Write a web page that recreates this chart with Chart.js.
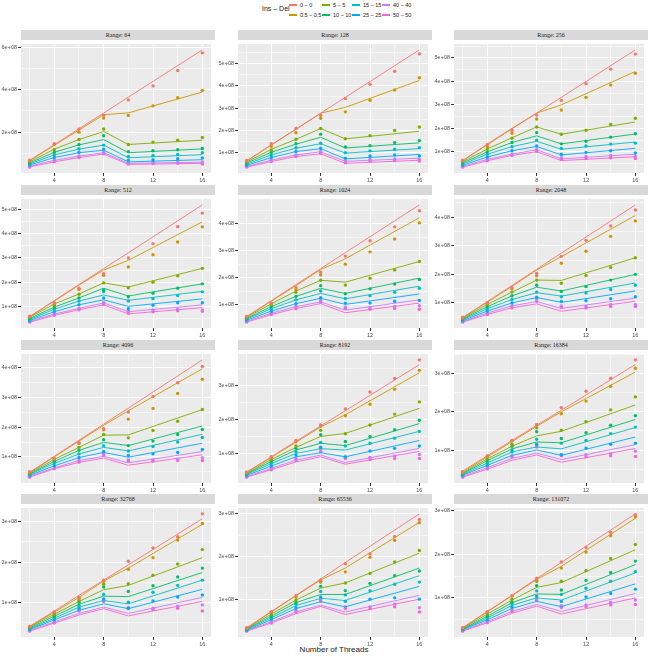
<!DOCTYPE html>
<html>
<head>
<meta charset="utf-8">
<script src="https://cdn.jsdelivr.net/npm/chart.js@4.4.0/dist/chart.umd.min.js"></script>
<style>
  body { margin: 0; background: #fff; font-family: 'Liberation Sans', Arial, sans-serif; }
  #page { position: relative; width: 650px; height: 657px; overflow: hidden; }
  canvas { position: absolute; }
  .strip { position: absolute; background: #d9d9d9; color: #1a1a1a; font: 6px 'Liberation Serif', serif; text-align: center; line-height: 10px; height: 10px; }
  .lg-title { position: absolute; left: 262px; top: 5px; font-size: 7px; color: #1a1a1a; }
  .lg-key { position: absolute; width: 8px; height: 2px; }
  .lg-lab { position: absolute; font-size: 5.5px; color: #1a1a1a; line-height: 6px; }
  #xtitle { position: absolute; left: 0; width: 668px; top: 645px; text-align: center; font-size: 8px; color: #1a1a1a; }
</style>
</head>
<body>
<div id="page">
  <div class="lg-title">Ins – Del</div>
  <div id="xtitle">Number of Threads</div>
</div>
<script>
// ---------------- data (throughput in units of 1e+08) ----------------
const ranges = [64, 128, 256, 512, 1024, 2048, 4096, 8192, 16384, 32768, 65536, 131072];
const series = ['0 – 0', '0.5 – 0.5', '5 – 5', '10 – 10', '15 – 15', '25 – 25', '40 – 40', '50 – 50'];
const colors = ['#F8766D', '#CD9600', '#7CAE00', '#00BE67', '#00BFC4', '#00A9FF', '#C77CFF', '#FF61CC'];
const lineX = [2, 4, 6, 8, 10, 16];
const pointX = [2, 4, 6, 8, 10, 12, 14, 16];
const xTicks = [2, 4, 6, 8, 10, 12, 14, 16];
const yStep = [2, 1, 1, 1, 1, 1, 1, 1, 1, 1, 1, 1];

// fitted lines, one row per series, values at lineX
const fit_64 = [
  [0.67, 1.41, 2.16, 2.90, 3.65, 5.88],
  [0.65, 1.38, 2.10, 2.82, 2.91, 3.89],
  [0.60, 1.20, 1.65, 2.03, 1.42, 1.62],
  [0.55, 1.05, 1.40, 1.65, 1.03, 1.21],
  [0.50, 0.93, 1.20, 1.39, 0.79, 0.94],
  [0.45, 0.80, 1.03, 1.15, 0.60, 0.70],
  [0.40, 0.67, 0.87, 1.03, 0.53, 0.58],
  [0.36, 0.60, 0.80, 0.97, 0.48, 0.53]
];
const obs_64 = [
  [0.68, 1.45, 2.15, 2.80, 3.52, 4.18, 4.91, 5.74],
  [0.65, 1.42, 2.00, 2.67, 2.79, 3.24, 3.62, 3.97],
  [0.60, 1.18, 1.65, 2.15, 1.42, 1.53, 1.62, 1.75],
  [0.55, 1.05, 1.42, 1.83, 1.08, 1.12, 1.17, 1.23],
  [0.50, 0.92, 1.22, 1.39, 0.85, 0.90, 0.95, 1.03],
  [0.45, 0.80, 1.05, 1.20, 0.68, 0.70, 0.75, 0.78],
  [0.40, 0.68, 0.88, 1.05, 0.55, 0.57, 0.58, 0.60],
  [0.35, 0.60, 0.80, 0.98, 0.50, 0.52, 0.53, 0.50]
];
const fit_128 = [
  [0.63, 1.34, 2.05, 2.77, 3.48, 5.61],
  [0.62, 1.36, 2.05, 2.77, 3.03, 4.24],
  [0.58, 1.15, 1.60, 2.08, 1.62, 1.96],
  [0.53, 1.02, 1.38, 1.69, 1.21, 1.44],
  [0.48, 0.90, 1.20, 1.40, 0.98, 1.18],
  [0.43, 0.78, 1.05, 1.18, 0.72, 0.92],
  [0.38, 0.66, 0.90, 1.04, 0.61, 0.75],
  [0.35, 0.60, 0.83, 0.95, 0.52, 0.66]
];
const obs_128 = [
  [0.65, 1.40, 2.08, 2.68, 3.43, 4.07, 4.65, 5.43],
  [0.62, 1.28, 1.89, 2.54, 2.83, 3.35, 3.81, 4.36],
  [0.58, 1.12, 1.60, 2.08, 1.62, 1.76, 1.99, 2.15],
  [0.53, 1.02, 1.40, 1.83, 1.25, 1.31, 1.45, 1.54],
  [0.48, 0.90, 1.22, 1.42, 1.00, 1.08, 1.15, 1.22],
  [0.43, 0.78, 1.05, 1.20, 0.75, 0.85, 0.90, 0.85],
  [0.38, 0.66, 0.90, 1.05, 0.62, 0.70, 0.72, 0.70],
  [0.35, 0.60, 0.83, 0.97, 0.55, 0.62, 0.65, 0.62]
];
const fit_256 = [
  [0.63, 1.30, 1.98, 2.65, 3.32, 5.34],
  [0.62, 1.33, 2.00, 2.65, 3.00, 4.42],
  [0.58, 1.12, 1.60, 2.06, 1.75, 2.27],
  [0.53, 1.00, 1.40, 1.68, 1.34, 1.76],
  [0.48, 0.90, 1.22, 1.45, 1.11, 1.42],
  [0.43, 0.78, 1.05, 1.23, 0.87, 1.15],
  [0.38, 0.68, 0.90, 1.09, 0.70, 0.90],
  [0.35, 0.62, 0.85, 1.01, 0.63, 0.79]
];
const obs_256 = [
  [0.65, 1.31, 1.91, 2.57, 3.19, 3.90, 4.52, 5.16],
  [0.60, 1.22, 1.79, 2.40, 2.78, 3.32, 3.84, 4.34],
  [0.58, 1.12, 1.58, 2.06, 1.75, 1.92, 2.17, 2.43],
  [0.53, 1.00, 1.40, 1.82, 1.34, 1.45, 1.62, 1.77],
  [0.48, 0.90, 1.22, 1.50, 1.15, 1.25, 1.33, 1.37],
  [0.43, 0.78, 1.05, 1.25, 0.90, 0.98, 1.05, 0.95],
  [0.38, 0.68, 0.90, 1.10, 0.75, 0.80, 0.85, 0.80],
  [0.35, 0.62, 0.85, 1.02, 0.68, 0.72, 0.75, 0.72]
];
const fit_512 = [
  [0.58, 1.24, 1.90, 2.56, 3.21, 5.19],
  [0.57, 1.22, 1.88, 2.50, 2.90, 4.49],
  [0.55, 1.10, 1.51, 1.97, 1.80, 2.57],
  [0.50, 0.97, 1.35, 1.75, 1.43, 1.93],
  [0.46, 0.88, 1.22, 1.47, 1.25, 1.62],
  [0.42, 0.78, 1.07, 1.27, 1.00, 1.31],
  [0.38, 0.68, 0.92, 1.14, 0.78, 1.06],
  [0.35, 0.63, 0.86, 1.06, 0.69, 0.95]
];
const obs_512 = [
  [0.60, 1.15, 1.75, 2.35, 3.00, 3.59, 4.29, 4.85],
  [0.57, 1.10, 1.70, 2.28, 2.63, 3.13, 3.66, 4.28],
  [0.55, 1.05, 1.50, 1.97, 1.77, 2.00, 2.26, 2.57],
  [0.50, 0.97, 1.35, 1.68, 1.40, 1.54, 1.75, 1.93],
  [0.46, 0.88, 1.22, 1.60, 1.22, 1.32, 1.45, 1.60],
  [0.42, 0.78, 1.07, 1.35, 0.90, 1.05, 1.15, 1.15],
  [0.38, 0.68, 0.92, 1.15, 0.80, 0.85, 0.88, 0.85],
  [0.35, 0.63, 0.86, 1.08, 0.72, 0.78, 0.82, 0.80]
];
const fit_1024 = [
  [0.55, 1.14, 1.74, 2.33, 2.93, 4.71],
  [0.53, 1.12, 1.70, 2.30, 2.70, 4.23],
  [0.52, 1.02, 1.50, 1.90, 1.83, 2.60],
  [0.48, 0.92, 1.30, 1.60, 1.41, 1.98],
  [0.45, 0.84, 1.17, 1.41, 1.21, 1.68],
  [0.41, 0.75, 1.03, 1.23, 1.00, 1.39],
  [0.37, 0.67, 0.92, 1.09, 0.79, 1.17],
  [0.34, 0.62, 0.85, 1.03, 0.69, 1.05]
];
const obs_1024 = [
  [0.55, 1.05, 1.62, 2.20, 2.80, 3.37, 3.89, 4.49],
  [0.53, 1.02, 1.55, 2.10, 2.50, 2.96, 3.44, 4.04],
  [0.52, 1.00, 1.45, 1.90, 1.72, 1.98, 2.28, 2.60],
  [0.48, 0.92, 1.30, 1.70, 1.40, 1.58, 1.76, 1.93],
  [0.45, 0.84, 1.17, 1.50, 1.22, 1.32, 1.45, 1.60],
  [0.41, 0.75, 1.03, 1.25, 1.05, 1.05, 1.12, 1.15],
  [0.37, 0.67, 0.92, 1.15, 0.90, 0.88, 0.92, 0.95],
  [0.34, 0.62, 0.85, 1.08, 0.85, 0.82, 0.85, 0.82]
];
const fit_2048 = [
  [0.49, 1.05, 1.61, 2.18, 2.74, 4.43],
  [0.48, 1.03, 1.58, 2.15, 2.62, 4.06],
  [0.46, 0.95, 1.38, 1.80, 1.79, 2.58],
  [0.44, 0.87, 1.25, 1.55, 1.42, 2.00],
  [0.41, 0.80, 1.12, 1.36, 1.24, 1.70],
  [0.38, 0.72, 1.00, 1.19, 1.02, 1.42],
  [0.35, 0.65, 0.90, 1.05, 0.81, 1.17],
  [0.33, 0.60, 0.83, 0.97, 0.71, 1.06]
];
const obs_2048 = [
  [0.50, 1.00, 1.53, 2.03, 2.63, 3.19, 3.69, 4.25],
  [0.48, 0.98, 1.50, 1.95, 2.39, 2.81, 3.33, 3.87],
  [0.46, 0.95, 1.38, 1.80, 1.69, 1.96, 2.24, 2.58],
  [0.44, 0.87, 1.25, 1.62, 1.40, 1.57, 1.80, 2.00],
  [0.41, 0.80, 1.12, 1.38, 1.22, 1.35, 1.47, 1.62],
  [0.38, 0.72, 1.00, 1.20, 1.05, 1.08, 1.15, 1.22],
  [0.35, 0.65, 0.90, 1.12, 0.90, 0.88, 0.95, 0.95],
  [0.33, 0.60, 0.83, 1.05, 0.85, 0.82, 0.88, 0.88]
];
const fit_4096 = [
  [0.48, 1.02, 1.56, 2.10, 2.64, 4.26],
  [0.47, 1.00, 1.53, 2.06, 2.55, 3.96],
  [0.45, 0.92, 1.32, 1.73, 1.74, 2.59],
  [0.43, 0.85, 1.22, 1.49, 1.38, 2.04],
  [0.41, 0.78, 1.10, 1.32, 1.20, 1.76],
  [0.38, 0.70, 0.98, 1.15, 0.99, 1.46],
  [0.35, 0.63, 0.88, 1.02, 0.80, 1.18],
  [0.32, 0.60, 0.82, 0.96, 0.72, 1.07]
];
const obs_4096 = [
  [0.50, 0.95, 1.48, 1.95, 2.51, 3.03, 3.49, 4.04],
  [0.47, 0.95, 1.45, 1.91, 2.27, 2.63, 3.13, 3.61],
  [0.45, 0.92, 1.32, 1.75, 1.64, 1.89, 2.20, 2.59],
  [0.43, 0.85, 1.22, 1.58, 1.38, 1.53, 1.75, 1.92],
  [0.41, 0.78, 1.10, 1.38, 1.20, 1.35, 1.50, 1.65],
  [0.38, 0.70, 0.98, 1.18, 1.05, 1.10, 1.15, 1.25],
  [0.35, 0.63, 0.88, 1.12, 0.90, 0.90, 0.92, 0.97],
  [0.32, 0.60, 0.82, 1.05, 0.85, 0.85, 0.88, 0.88]
];
const fit_8192 = [
  [0.45, 0.90, 1.36, 1.81, 2.26, 3.62],
  [0.44, 0.88, 1.33, 1.78, 2.14, 3.38],
  [0.42, 0.82, 1.18, 1.50, 1.59, 2.33],
  [0.40, 0.76, 1.10, 1.30, 1.23, 1.88],
  [0.38, 0.70, 1.00, 1.14, 1.10, 1.65],
  [0.35, 0.63, 0.90, 1.02, 0.90, 1.38],
  [0.32, 0.56, 0.80, 0.95, 0.73, 1.15],
  [0.30, 0.52, 0.75, 0.90, 0.68, 1.06]
];
const obs_8192 = [
  [0.45, 0.88, 1.38, 1.84, 2.31, 2.81, 3.21, 3.76],
  [0.44, 0.90, 1.35, 1.81, 2.11, 2.45, 2.89, 3.45],
  [0.42, 0.82, 1.22, 1.68, 1.58, 1.84, 2.16, 2.52],
  [0.40, 0.76, 1.15, 1.55, 1.35, 1.50, 1.70, 1.98],
  [0.38, 0.70, 1.05, 1.32, 1.22, 1.30, 1.45, 1.65],
  [0.35, 0.63, 0.95, 1.18, 0.90, 1.07, 1.15, 1.22],
  [0.32, 0.56, 0.85, 1.12, 0.88, 0.88, 0.92, 0.97],
  [0.30, 0.52, 0.80, 1.05, 0.85, 0.82, 0.85, 0.85]
];
const fit_16384 = [
  [0.45, 0.85, 1.25, 1.65, 2.04, 3.24],
  [0.42, 0.82, 1.22, 1.62, 2.00, 3.04],
  [0.40, 0.77, 1.10, 1.37, 1.49, 2.18],
  [0.38, 0.72, 1.03, 1.21, 1.19, 1.80],
  [0.36, 0.66, 0.95, 1.08, 1.03, 1.59],
  [0.34, 0.60, 0.86, 1.00, 0.86, 1.34],
  [0.31, 0.54, 0.78, 0.92, 0.75, 1.14],
  [0.29, 0.50, 0.73, 0.87, 0.68, 1.04]
];
const obs_16384 = [
  [0.43, 0.85, 1.25, 1.66, 2.11, 2.54, 2.88, 3.36],
  [0.42, 0.83, 1.24, 1.66, 1.95, 2.28, 2.67, 3.14],
  [0.40, 0.77, 1.15, 1.58, 1.52, 1.74, 2.05, 2.39],
  [0.38, 0.72, 1.10, 1.48, 1.30, 1.45, 1.65, 1.90],
  [0.36, 0.66, 1.00, 1.28, 1.18, 1.25, 1.43, 1.60],
  [0.34, 0.60, 0.95, 1.15, 0.88, 1.05, 1.15, 1.18],
  [0.31, 0.54, 0.85, 1.12, 0.88, 0.88, 0.90, 0.97],
  [0.29, 0.50, 0.82, 1.08, 0.85, 0.82, 0.85, 0.83]
];
const fit_32768 = [
  [0.40, 0.78, 1.17, 1.55, 1.93, 3.08],
  [0.39, 0.75, 1.12, 1.53, 1.85, 2.94],
  [0.38, 0.70, 1.02, 1.31, 1.42, 2.11],
  [0.36, 0.65, 0.95, 1.15, 1.14, 1.74],
  [0.34, 0.60, 0.88, 1.04, 0.96, 1.55],
  [0.32, 0.56, 0.80, 0.96, 0.84, 1.32],
  [0.30, 0.51, 0.72, 0.88, 0.72, 1.12],
  [0.28, 0.48, 0.68, 0.84, 0.66, 1.02]
];
const obs_32768 = [
  [0.40, 0.75, 1.10, 1.55, 2.02, 2.35, 2.63, 3.20],
  [0.39, 0.76, 1.12, 1.52, 1.82, 2.11, 2.55, 2.96],
  [0.38, 0.70, 1.05, 1.45, 1.46, 1.67, 1.95, 2.31],
  [0.36, 0.65, 1.00, 1.38, 1.27, 1.41, 1.63, 1.85],
  [0.34, 0.60, 0.92, 1.20, 1.00, 1.25, 1.42, 1.55],
  [0.32, 0.56, 0.85, 1.08, 0.85, 1.03, 1.13, 1.18],
  [0.30, 0.51, 0.80, 1.05, 0.87, 0.85, 0.90, 0.93],
  [0.28, 0.48, 0.78, 1.02, 0.84, 0.82, 0.85, 0.78]
];
const fit_65536 = [
  [0.33, 0.71, 1.09, 1.47, 1.86, 3.00],
  [0.32, 0.70, 1.08, 1.45, 1.73, 2.80],
  [0.31, 0.65, 0.98, 1.26, 1.38, 2.08],
  [0.30, 0.60, 0.92, 1.11, 1.11, 1.73],
  [0.29, 0.56, 0.85, 1.02, 0.97, 1.55],
  [0.27, 0.52, 0.78, 0.94, 0.82, 1.30],
  [0.26, 0.47, 0.70, 0.86, 0.70, 1.09],
  [0.25, 0.44, 0.66, 0.83, 0.64, 1.00]
];
const obs_65536 = [
  [0.33, 0.70, 1.08, 1.45, 1.83, 2.06, 2.47, 2.87],
  [0.32, 0.70, 1.05, 1.41, 1.64, 1.98, 2.38, 2.79],
  [0.31, 0.65, 0.98, 1.40, 1.38, 1.60, 1.87, 2.14],
  [0.30, 0.60, 0.92, 1.30, 1.20, 1.37, 1.55, 1.66],
  [0.29, 0.56, 0.88, 1.18, 1.10, 1.20, 1.35, 1.40],
  [0.27, 0.52, 0.80, 1.05, 0.95, 1.00, 1.03, 1.00],
  [0.26, 0.47, 0.74, 1.00, 0.82, 0.82, 0.88, 0.80],
  [0.25, 0.44, 0.70, 0.95, 0.78, 0.78, 0.82, 0.70]
];
const fit_131072 = [
  [0.32, 0.69, 1.06, 1.44, 1.81, 2.92],
  [0.31, 0.68, 1.05, 1.42, 1.72, 2.82],
  [0.30, 0.63, 0.95, 1.24, 1.35, 2.10],
  [0.29, 0.58, 0.89, 1.09, 1.08, 1.76],
  [0.28, 0.54, 0.83, 1.00, 0.95, 1.57],
  [0.27, 0.50, 0.76, 0.92, 0.80, 1.32],
  [0.25, 0.46, 0.69, 0.85, 0.69, 1.10],
  [0.24, 0.43, 0.65, 0.81, 0.63, 1.00]
];
const obs_131072 = [
  [0.32, 0.68, 1.05, 1.45, 1.82, 2.15, 2.50, 2.90],
  [0.31, 0.68, 1.04, 1.40, 1.68, 2.05, 2.42, 2.85],
  [0.30, 0.63, 0.97, 1.38, 1.38, 1.62, 1.90, 2.22],
  [0.29, 0.58, 0.90, 1.28, 1.18, 1.40, 1.58, 1.84],
  [0.28, 0.54, 0.86, 1.16, 1.08, 1.22, 1.38, 1.60],
  [0.27, 0.50, 0.79, 1.04, 0.92, 1.02, 1.10, 1.20],
  [0.25, 0.46, 0.73, 0.98, 0.82, 0.84, 0.90, 0.95],
  [0.24, 0.43, 0.69, 0.94, 0.78, 0.80, 0.84, 0.85]
];

const fits = [fit_64, fit_128, fit_256, fit_512, fit_1024, fit_2048, fit_4096, fit_8192, fit_16384, fit_32768, fit_65536, fit_131072];
const obs = [obs_64, obs_128, obs_256, obs_512, obs_1024, obs_2048, obs_4096, obs_8192, obs_16384, obs_32768, obs_65536, obs_131072];

// ---------------- layout ----------------
const colLeft = [21, 238, 454];
const rowTop = [40, 195, 350, 504];
const plotW = 194, plotH = 133, yAxisW = 21, xAxisH = 10;
const page = document.getElementById('page');

// gray panel background, like ggplot
const panelBg = {
  id: 'panelBg',
  beforeDraw(chart) {
    const a = chart.chartArea, c = chart.ctx;
    c.save();
    c.fillStyle = '#ebebeb';
    c.fillRect(a.left, a.top, a.right - a.left, a.bottom - a.top);
    c.restore();
  }
};

// legend
const legCols = [289, 322, 352, 382];
series.forEach(function(s, i) {
  const col = Math.floor(i / 2), row = i % 2;
  const key = document.createElement('div');
  key.className = 'lg-key';
  key.style.left = legCols[col] + 'px';
  key.style.top = (row === 0 ? 4 : 14) + 'px';
  key.style.background = colors[i];
  page.appendChild(key);
  const lab = document.createElement('div');
  lab.className = 'lg-lab';
  lab.style.left = (legCols[col] + 11) + 'px';
  lab.style.top = (row === 0 ? 2 : 12) + 'px';
  lab.textContent = s;
  page.appendChild(lab);
});

ranges.forEach(function(r, p) {
  const col = p % 3, row = Math.floor(p / 3);
  const left = colLeft[col], top = rowTop[row];

  const strip = document.createElement('div');
  strip.className = 'strip';
  strip.style.left = left + 'px';
  strip.style.top = (top - 10) + 'px';
  strip.style.width = plotW + 'px';
  strip.textContent = 'Range: ' + r;
  page.appendChild(strip);

  const cv = document.createElement('canvas');
  cv.width = plotW + yAxisW;
  cv.height = plotH + xAxisH;
  cv.style.left = (left - yAxisW) + 'px';
  cv.style.top = top + 'px';
  page.appendChild(cv);

  let datasets = [];
  let all = [];
  series.forEach(function(s, i) {
    datasets.push({
      label: s,
      data: lineX.map((x, j) => ({x: x, y: fits[p][i][j]})),
      showLine: true,
      borderColor: colors[i],
      borderWidth: 0.9,
      pointRadius: 0
    });
    datasets.push({
      label: s,
      data: pointX.map((x, j) => ({x: x, y: obs[p][i][j]})),
      backgroundColor: colors[i],
      borderWidth: 0,
      pointRadius: 1.7
    });
    all = all.concat(fits[p][i], obs[p][i]);
  });
  const lo = Math.min.apply(null, all), hi = Math.max.apply(null, all);
  const pad = (hi - lo) * 0.05;
  const step = yStep[p], half = step / 2;

  new Chart(cv, {
    type: 'scatter',
    data: { datasets: datasets },
    options: {
      responsive: false,
      animation: false,
      devicePixelRatio: 1,
      layout: { padding: 0 },
      plugins: { legend: { display: false }, tooltip: { enabled: false } },
      scales: {
        x: {
          type: 'linear',
          min: 1.3,
          max: 16.7,
          afterBuildTicks: function(ax) { ax.ticks = xTicks.map(v => ({value: v})); },
          afterFit: function(ax) { ax.height = xAxisH; ax.paddingLeft = 0; ax.paddingRight = 0; },
          border: { display: false },
          grid: {
            color: '#ffffff',
            lineWidth: c => (c.tick && c.tick.value % 4 === 0) ? 1 : 0.5,
            tickColor: c => (c.tick && c.tick.value % 4 === 0) ? '#333333' : 'rgba(0,0,0,0)',
            tickLength: 3
          },
          ticks: {
            autoSkip: false,
            maxRotation: 0,
            padding: 1,
            color: '#4d4d4d',
            font: { size: 5.5, family: 'Liberation Sans' },
            callback: v => v % 4 === 0 ? String(v) : ''
          }
        },
        y: {
          min: lo - pad,
          max: hi + pad,
          afterBuildTicks: function(ax) {
            const t = [];
            for (let k = Math.ceil(ax.min / half); k * half <= ax.max; k++) t.push({value: k * half});
            ax.ticks = t;
          },
          afterFit: function(ax) { ax.width = yAxisW; ax.paddingTop = 0; ax.paddingBottom = 0; },
          border: { display: false },
          grid: {
            color: '#ffffff',
            lineWidth: c => (c.tick && Math.abs(c.tick.value / step - Math.round(c.tick.value / step)) < 1e-6) ? 1 : 0.5,
            tickColor: c => (c.tick && Math.abs(c.tick.value / step - Math.round(c.tick.value / step)) < 1e-6) ? '#333333' : 'rgba(0,0,0,0)',
            tickLength: 3
          },
          ticks: {
            autoSkip: false,
            padding: 1,
            color: '#4d4d4d',
            font: { size: 5.5, family: 'Liberation Sans' },
            callback: v => Math.abs(v / step - Math.round(v / step)) < 1e-6 ? Math.round(v) + 'e+08' : ''
          }
        }
      }
    },
    plugins: [panelBg]
  });
});
</script>
</body>
</html>
